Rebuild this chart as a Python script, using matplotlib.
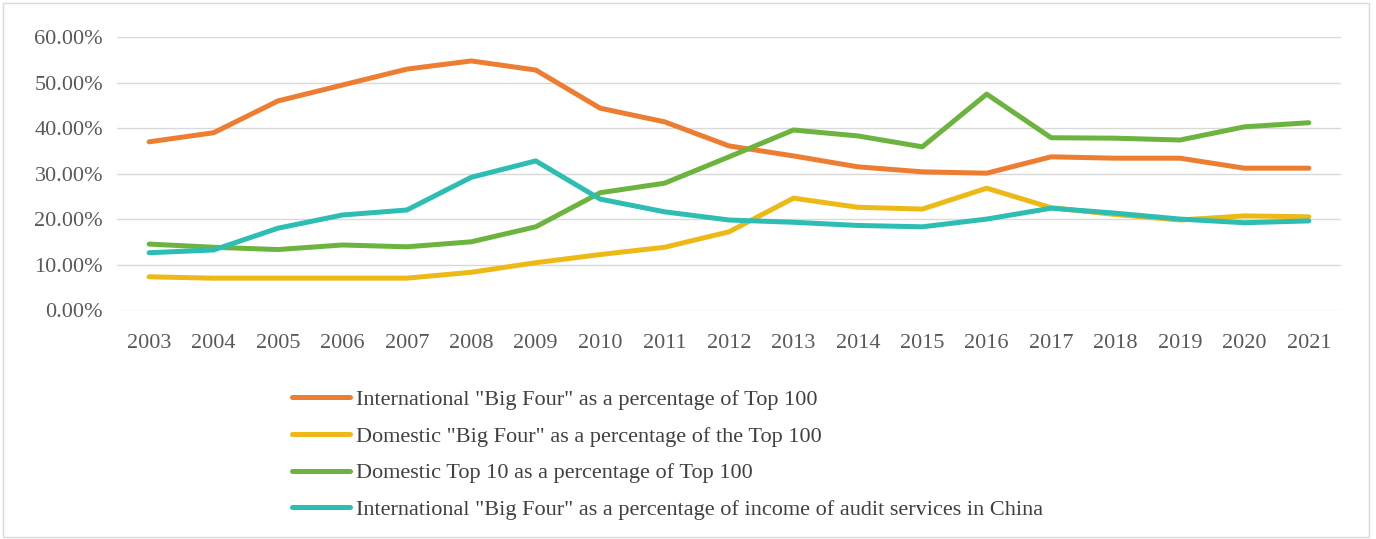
import matplotlib.pyplot as plt
from matplotlib.patches import Rectangle
from matplotlib.ticker import PercentFormatter

plt.rcParams['font.family'] = ['Liberation Serif', 'DejaVu Serif']

years = [str(y) for y in range(2003, 2022)]

# percentages
intl_big4 = [37.0, 39.0, 46.0, 49.5, 53.0, 54.8, 52.8, 44.4, 41.4, 36.1,
             33.9, 31.5, 30.4, 30.1, 33.7, 33.4, 33.4, 31.2, 31.2]
dom_big4 = [7.3, 7.0, 7.0, 7.0, 7.0, 8.3, 10.4, 12.2, 13.8, 17.2,
            24.6, 22.6, 22.2, 26.8, 22.5, 21.0, 19.8, 20.7, 20.5]
dom_top10 = [14.5, 13.8, 13.3, 14.3, 13.9, 15.0, 18.3, 25.8, 27.9, 33.7,
             39.6, 38.3, 35.9, 47.5, 37.9, 37.8, 37.4, 40.3, 41.2]
intl_china = [12.6, 13.2, 18.0, 20.9, 22.0, 29.2, 32.8, 24.4, 21.6, 19.8,
              19.3, 18.6, 18.3, 20.0, 22.4, 21.3, 20.0, 19.2, 19.6]

labels = ['International "Big Four" as a percentage of Top 100',
          'Domestic "Big Four" as a percentage of the Top 100',
          'Domestic Top 10 as a percentage of Top 100',
          'International "Big Four" as a percentage of income of audit services in China']
colors = ['#ED7D31', '#EDB917', '#6DB33F', '#2DBDB3']

fig = plt.figure(figsize=(13.76, 5.39), dpi=100)
ax = fig.add_axes([0.085, 0.4249, 0.8896, 0.5059])

for vals, lab, col in zip([intl_big4, dom_big4, dom_top10, intl_china], labels, colors):
    ax.plot(years, [v / 100 for v in vals], color=col, lw=3.6, label=lab,
            solid_capstyle='round', solid_joinstyle='round')

ax.set_xlim(-0.5, len(years) - 0.5)
ax.set_ylim(0, 0.6)
ax.set_yticks([i / 10 for i in range(7)])
ax.yaxis.set_major_formatter(PercentFormatter(1.0, decimals=2))
ax.grid(axis='y', color='#D9D9D9', lw=1)
ax.set_axisbelow(True)
for s in ax.spines.values():
    s.set_visible(False)
ax.tick_params(length=0, labelsize=16, colors='#595959')
ax.tick_params(axis='y', pad=10)
ax.tick_params(axis='x', pad=17)

fig.legend(loc='upper left', bbox_to_anchor=(0.2125, 0.277), frameon=False,
           borderpad=0, borderaxespad=0,
           fontsize=16, handlelength=2.6, handletextpad=0.25, labelspacing=0.72,
           labelcolor='#404040')

fig.patches.append(Rectangle((0.002, 0.004), 0.993, 0.99, transform=fig.transFigure,
                             fill=False, edgecolor='#D9D9D9', lw=1))

fig.savefig('out.png', dpi=100)
